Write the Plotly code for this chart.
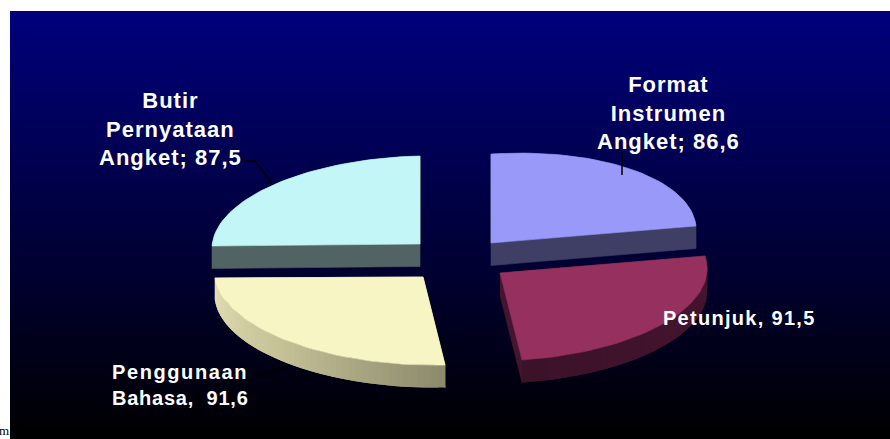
import numpy as np
import plotly.graph_objects as go

# data
categories = ["Format Instrumen Angket", "Petunjuk", "Penggunaan Bahasa", "Butir Pernyataan Angket"]
values = [86.6, 91.5, 91.6, 87.5]
label_lines = ["Format<br>Instrumen<br>Angket; {}", "Petunjuk, {}", "Penggunaan<br>Bahasa,  {}", "Butir<br>Pernyataan<br>Angket; {}"]

# style: pixel frame of each tilted, exploded slice (apex, start edge, end edge)
W, H = 890, 439
frames = [
    ((491, 243), (0, -89), (205, -17)),
    ((500, 273), (205, -17), (22, 87)),
    ((423, 277), (22, 88), (-208, 1)),
    ((420, 244), (-208, 2), (0, -88)),
]
top_colors = ["#9999fa", "#96305f", "#f6f5c3", "#c3f6f6"]
edge_colors = ["#3f3f66", "#45152f", "#e3dfb3", "#516363"]
wall_stops = [
    [(63, 63, 102), (63, 63, 102)],
    [(72, 20, 48), (66, 20, 46), (60, 18, 42)],
    [(140, 138, 108), (195, 192, 150), (228, 224, 180)],
    [(81, 99, 99), (81, 99, 99)],
]
depth = 22.5
# x, y, font size, horizontal anchor
label_pos = [(668, 113, 22, "center"), (739, 318, 20, "center"), (110, 385, 20, "left"), (170, 129, 22, "center")]
leaders = [
    ([622, 622], [152, 175]),
    ([253, 262, 287], [375, 375, 365]),
    ([243, 255, 272], [161, 161, 183]),
]

fig = go.Figure()

# background gradient
edges = np.arange(11, H + 1)
centers = (edges[:-1] + edges[1:]) / 2
fig.add_trace(go.Heatmap(
    x=[10, W], y=edges, z=((H - centers) / (H - 11))[:, None],
    zmin=0, zmax=1, colorscale=[[0, "#000000"], [1, "#00007c"]],
    showscale=False, hoverinfo="skip",
))


def poly(xs, ys, color, lw=0.6):
    fig.add_trace(go.Scatter(
        x=xs, y=ys, mode="lines", fill="toself", fillcolor=color,
        line=dict(color=color, width=lw), hoverinfo="skip", showlegend=False,
    ))


total = sum(values)
for i, v in enumerate(values):
    phi = np.radians(360 * v / total)
    A, U, V = (np.array(p, float) for p in frames[i])
    t = np.linspace(0, phi, 49)
    arc = A + np.outer(np.sin(phi - t) / np.sin(phi), U) + np.outer(np.sin(t) / np.sin(phi), V)

    # side walls: the two cut faces, then the rim in overlapping bands
    for end in (arc[0], arc[-1]):
        poly([A[0], end[0], end[0], A[0]], [A[1], end[1], end[1] + depth, A[1] + depth], edge_colors[i])
    stops = np.array(wall_stops[i], float)
    pos = np.linspace(0, 1, len(stops))
    for k in range(len(arc) - 1):
        f = (k + 0.5) / (len(arc) - 1)
        rgb = [np.interp(f, pos, stops[:, c]) for c in range(3)]
        col = "rgb(%d,%d,%d)" % tuple(rgb)
        a, b = arc[k], arc[min(k + 2, len(arc) - 1)]
        poly([a[0], b[0], b[0], a[0]], [a[1], b[1], b[1] + depth, a[1] + depth], col, lw=0)

    # top face
    outline = np.vstack([A, arc, A])
    poly(outline[:, 0], outline[:, 1], top_colors[i])

# leader lines
for xs, ys in leaders:
    fig.add_trace(go.Scatter(x=xs, y=ys, mode="lines", line=dict(color="#000000", width=1.5),
                             hoverinfo="skip", showlegend=False))

# labels
for text, v, (x, y, size, anchor) in zip(label_lines, values, label_pos):
    fig.add_annotation(x=x, y=y, text="<b>" + text.format(str(v).replace(".", ",")) + "</b>",
                       showarrow=False, xanchor=anchor, yanchor="middle", align=anchor,
                       font=dict(family="Liberation Sans", size=size, color="#ffffff"))

# small letter left of the panel
fig.add_annotation(x=11, y=430, text="m", showarrow=False, xanchor="right", yanchor="middle",
                   font=dict(family="Liberation Serif", size=13, color="#000000"))

fig.update_layout(
    width=W, height=H, margin=dict(l=0, r=0, t=0, b=0, pad=0),
    paper_bgcolor="#ffffff", plot_bgcolor="#ffffff", showlegend=False,
    xaxis=dict(range=[0, W], visible=False, fixedrange=True),
    yaxis=dict(range=[H, 0], visible=False, fixedrange=True),
)
post = """
document.body.style.margin='0';
document.querySelectorAll('.annotation-text').forEach(function(t){
  var s = t.textContent;
  if (s === 'm') { return; }
  if (s.indexOf('Petunjuk') === 0) { t.style.letterSpacing = '1.3px'; }
  else if (s.indexOf('Penggunaan') === 0) {
    t.style.letterSpacing = '1.6px';
    t.querySelectorAll('tspan.line').forEach(function(l){
      if (l.textContent.indexOf('Bahasa') === 0) { l.style.letterSpacing = '0.75px'; }
    });
  }
  else { t.style.letterSpacing = '1px'; }
});
"""
fig.write_html("out.html", config={"displayModeBar": False}, post_script=post)
